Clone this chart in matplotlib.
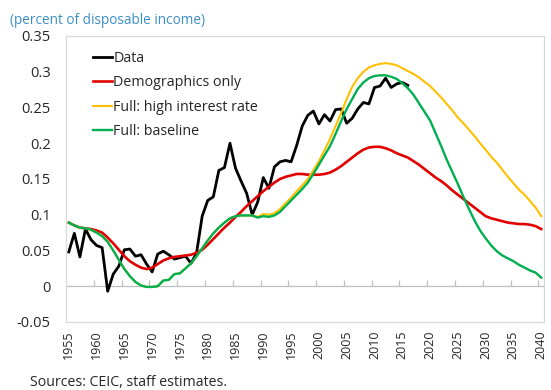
import matplotlib
matplotlib.use("Agg")
import matplotlib.pyplot as plt
from matplotlib.ticker import FixedLocator, FuncFormatter

plt.rcParams["font.family"] = ["Open Sans", "DejaVu Sans"]

years = list(range(1955, 2041))
data_years = list(range(1955, 2017))

# household saving rate, observed
data = [
    0.048, 0.074, 0.041, 0.080, 0.065, 0.057, 0.054, -0.007, 0.017, 0.028,
    0.051, 0.052, 0.042, 0.044, 0.031, 0.020, 0.045, 0.049, 0.044, 0.038,
    0.040, 0.042, 0.032, 0.047, 0.098, 0.120, 0.125, 0.162, 0.166, 0.200,
    0.165, 0.147, 0.130, 0.100, 0.118, 0.152, 0.137, 0.167, 0.174, 0.176,
    0.174, 0.197, 0.224, 0.239, 0.245, 0.227, 0.240, 0.231, 0.247, 0.248,
    0.228, 0.235, 0.248, 0.257, 0.255, 0.278, 0.280, 0.291, 0.278, 0.283,
    0.285, 0.281,
]

demographics = [
    0.089, 0.085, 0.082, 0.081, 0.080, 0.078, 0.075, 0.068, 0.060, 0.051,
    0.042, 0.035, 0.030, 0.026, 0.024, 0.026, 0.031, 0.036, 0.039, 0.041,
    0.042, 0.043, 0.044, 0.047, 0.051, 0.058, 0.066, 0.074, 0.082, 0.089,
    0.097, 0.104, 0.112, 0.119, 0.126, 0.133, 0.139, 0.145, 0.150, 0.153,
    0.155, 0.157, 0.157, 0.156, 0.156, 0.156, 0.157, 0.159, 0.163, 0.168,
    0.174, 0.180, 0.186, 0.191, 0.194, 0.195, 0.195, 0.193, 0.190, 0.186,
    0.183, 0.180, 0.175, 0.170, 0.164, 0.158, 0.152, 0.147, 0.141, 0.134,
    0.128, 0.122, 0.116, 0.110, 0.104, 0.098, 0.095, 0.093, 0.091, 0.089,
    0.088, 0.087, 0.087, 0.086, 0.084, 0.080,
]

high_rate = [
    0.089, 0.085, 0.082, 0.081, 0.079, 0.075, 0.070, 0.062, 0.050, 0.037,
    0.024, 0.014, 0.006, 0.001, -0.001, -0.001, 0.000, 0.008, 0.009, 0.017,
    0.018, 0.025, 0.032, 0.042, 0.053, 0.064, 0.074, 0.082, 0.089, 0.095,
    0.098, 0.099, 0.099, 0.099, 0.097, 0.101, 0.100, 0.102, 0.108, 0.116,
    0.124, 0.133, 0.141, 0.150, 0.162, 0.175, 0.190, 0.206, 0.224, 0.242,
    0.262, 0.279, 0.291, 0.300, 0.306, 0.309, 0.311, 0.312, 0.311, 0.309,
    0.305, 0.301, 0.297, 0.292, 0.286, 0.280, 0.272, 0.264, 0.255, 0.246,
    0.236, 0.228, 0.219, 0.210, 0.200, 0.191, 0.181, 0.173, 0.163, 0.153,
    0.144, 0.135, 0.128, 0.119, 0.110, 0.098,
]

baseline = [
    0.089, 0.085, 0.082, 0.081, 0.079, 0.075, 0.070, 0.062, 0.050, 0.037,
    0.024, 0.014, 0.006, 0.001, -0.001, -0.001, 0.000, 0.008, 0.009, 0.017,
    0.018, 0.025, 0.032, 0.042, 0.053, 0.064, 0.074, 0.082, 0.089, 0.095,
    0.098, 0.099, 0.099, 0.099, 0.096, 0.098, 0.097, 0.099, 0.104, 0.112,
    0.120, 0.128, 0.136, 0.145, 0.157, 0.170, 0.183, 0.196, 0.213, 0.231,
    0.248, 0.262, 0.276, 0.285, 0.291, 0.294, 0.295, 0.295, 0.293, 0.290,
    0.284, 0.277, 0.268, 0.256, 0.244, 0.232, 0.214, 0.196, 0.177, 0.160,
    0.143, 0.125, 0.108, 0.092, 0.078, 0.067, 0.057, 0.049, 0.043, 0.039,
    0.035, 0.030, 0.026, 0.022, 0.019, 0.012,
]

fig = plt.figure(figsize=(5.51, 3.90), dpi=100)
ax = fig.add_axes([0.1198, 0.1744, 0.8675, 0.7333])

ax.plot(data_years, data, color="black", lw=2.0, label="Data")
ax.plot(years, demographics, color="#E00000", lw=1.9, label="Demographics only")
ax.plot(years, high_rate, color="#FFC000", lw=1.5, label="Full: high interest rate")
ax.plot(years, baseline, color="#00B050", lw=1.7, label="Full: baseline")

ax.set_xlim(1954.5, 2040.5)
ax.set_ylim(-0.05, 0.35)

# y axis: Excel-style labels, no tick marks
ax.yaxis.set_major_locator(FixedLocator([-0.05 + 0.05 * i for i in range(9)]))
ax.yaxis.set_major_formatter(FuncFormatter(lambda v, _: f"{round(v, 2):g}"))
ax.tick_params(axis="y", length=0, pad=11, labelsize=10.5, labelcolor="#262626")

# x axis: labels at the bottom, tick marks on the zero line
ax.set_xticks(list(range(1955, 2041, 5)))
ax.tick_params(axis="x", length=0, pad=6, labelsize=9, labelrotation=90,
               labelcolor="#262626")
ax.axhline(0, color="#BFBFBF", lw=0.9, zorder=0)
zero_frac = 0.05 / 0.40
ax.vlines([y + 4.5 for y in range(1955, 2040, 5)], zero_frac, zero_frac + 0.022,
          transform=ax.get_xaxis_transform(), color="#BFBFBF", lw=0.9, zorder=0)

for spine in ax.spines.values():
    spine.set_color("#D9D9D9")
    spine.set_linewidth(0.9)

ax.legend(loc="upper left", bbox_to_anchor=(0.056, 0.948), frameon=False,
          borderpad=0, borderaxespad=0, handlelength=1.33, handletextpad=0.1,
          labelspacing=0.66, fontsize=10.3, labelcolor="#262626")

fig.text(10 / 551, 1 - 20 / 390, "(percent of disposable income)", color="#3A8FC9",
         fontsize=9.8, va="center", ha="left")
fig.text(30 / 551, 1 - 383 / 390, "Sources: CEIC, staff estimates.", color="#262626",
         fontsize=10.2, va="center", ha="left")

fig.savefig("out.png", dpi=100)
